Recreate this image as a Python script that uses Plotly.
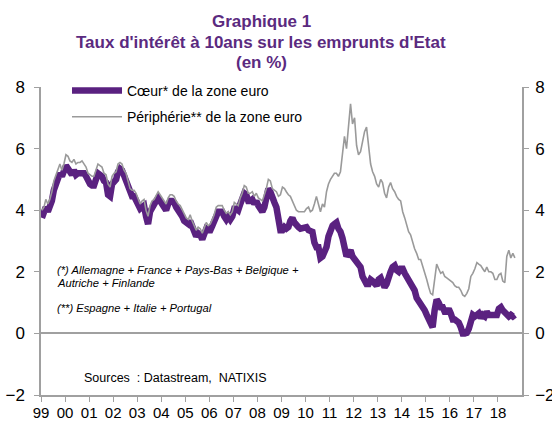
import pandas as pd
import plotly.graph_objects as go

# ---------------- data (monthly, Jan 1999 -> Sep 2018) ----------------
start_month = "1999-01-01"
core_yields = [
    3.75, 3.9, 4.1, 3.95, 4.1, 4.3, 4.65, 4.9, 5.1, 5.2, 5.1, 5.25,      # 1999
    5.45, 5.35, 5.2, 5.15, 5.3, 5.15, 5.2, 5.2, 5.25, 5.2, 5.1, 4.9,     # 2000
    4.85, 4.8, 4.8, 5.0, 5.2, 5.15, 5.1, 4.95, 4.9, 4.5, 4.45, 4.85,     # 2001
    4.95, 5.0, 5.25, 5.35, 5.3, 5.1, 5.0, 4.75, 4.5, 4.45, 4.45, 4.35,   # 2002
    4.2, 4.05, 4.1, 4.15, 3.8, 3.55, 3.95, 4.1, 4.15, 4.3, 4.4, 4.3,     # 2003
    4.2, 4.1, 4.0, 4.2, 4.3, 4.3, 4.25, 4.1, 4.0, 3.95, 3.8, 3.65,       # 2004
    3.6, 3.55, 3.65, 3.45, 3.3, 3.15, 3.25, 3.2, 3.05, 3.2, 3.4, 3.35,   # 2005
    3.35, 3.5, 3.65, 3.9, 3.95, 3.95, 3.95, 3.8, 3.7, 3.8, 3.7, 3.8,     # 2006
    4.05, 4.05, 4.0, 4.2, 4.35, 4.55, 4.5, 4.3, 4.3, 4.35, 4.2, 4.3,     # 2007
    4.15, 4.05, 3.95, 4.1, 4.35, 4.7, 4.6, 4.35, 4.25, 4.1, 3.75, 3.35,  # 2008
    3.35, 3.45, 3.4, 3.45, 3.65, 3.75, 3.6, 3.5, 3.45, 3.4, 3.4, 3.4,    # 2009
    3.45, 3.35, 3.3, 3.3, 2.95, 2.8, 2.8, 2.45, 2.5, 2.6, 2.8, 3.15,     # 2010
    3.4, 3.5, 3.55, 3.6, 3.4, 3.3, 3.1, 2.7, 2.5, 2.6, 2.7, 2.5,         # 2011
    2.4, 2.35, 2.3, 2.15, 1.85, 1.75, 1.6, 1.6, 1.75, 1.7, 1.65, 1.55,   # 2012
    1.75, 1.8, 1.65, 1.5, 1.6, 1.9, 2.0, 2.15, 2.2, 2.05, 2.0, 2.1,      # 2013
    2.1, 1.95, 1.85, 1.8, 1.65, 1.5, 1.4, 1.15, 1.05, 0.95, 0.9, 0.75,   # 2014
    0.6, 0.45, 0.3, 0.2, 0.75, 1.1, 1.0, 0.85, 0.85, 0.7, 0.7, 0.8,      # 2015
    0.65, 0.45, 0.45, 0.4, 0.35, 0.2, 0.0, 0.0, 0.02, 0.15, 0.5, 0.6,    # 2016
    0.55, 0.65, 0.65, 0.5, 0.6, 0.55, 0.7, 0.6, 0.6, 0.6, 0.55, 0.6,     # 2017
    0.8, 0.85, 0.75, 0.7, 0.65, 0.55, 0.6, 0.55, 0.6,                    # 2018
]
periphery_yields = [
    4.0, 4.1, 4.35, 4.2, 4.35, 4.6, 4.95, 5.15, 5.35, 5.5, 5.3, 5.5,     # 1999
    5.8, 5.75, 5.6, 5.55, 5.65, 5.5, 5.55, 5.55, 5.6, 5.5, 5.4, 5.2,     # 2000
    5.15, 5.1, 5.1, 5.3, 5.5, 5.45, 5.4, 5.2, 5.15, 4.85, 4.75, 5.1,     # 2001
    5.2, 5.25, 5.5, 5.55, 5.5, 5.3, 5.2, 4.95, 4.7, 4.65, 4.65, 4.55,    # 2002
    4.4, 4.2, 4.3, 4.35, 4.0, 3.8, 4.15, 4.3, 4.35, 4.5, 4.6, 4.5,       # 2003
    4.4, 4.3, 4.2, 4.4, 4.5, 4.5, 4.45, 4.3, 4.2, 4.15, 4.0, 3.85,       # 2004
    3.75, 3.7, 3.85, 3.65, 3.5, 3.35, 3.45, 3.4, 3.25, 3.4, 3.6, 3.5,    # 2005
    3.55, 3.7, 3.85, 4.1, 4.15, 4.15, 4.15, 4.0, 3.9, 3.95, 3.85, 3.95,  # 2006
    4.25, 4.2, 4.15, 4.4, 4.55, 4.8, 4.75, 4.55, 4.55, 4.6, 4.45, 4.55,  # 2007
    4.4, 4.35, 4.3, 4.5, 4.7, 5.0, 4.95, 4.7, 4.65, 4.6, 4.45, 4.5,      # 2008
    4.75, 4.7, 4.6, 4.5, 4.45, 4.3, 4.15, 4.0, 3.95, 3.95, 3.95, 3.95,   # 2009
    4.05, 4.1, 3.95, 4.0, 4.2, 4.45, 4.2, 3.95, 4.2, 4.1, 4.6, 4.85,     # 2010
    5.0, 5.1, 5.2, 5.2, 5.1, 5.25, 5.8, 6.4, 6.0, 6.7, 7.45, 6.8,        # 2011
    7.0, 6.1, 5.8, 5.9, 6.2, 6.55, 6.7, 6.0, 5.5, 5.25, 5.1, 4.85,       # 2012
    4.75, 5.0, 4.9, 4.55, 4.4, 4.75, 4.9, 4.7, 4.6, 4.45, 4.35, 4.3,     # 2013
    3.95, 3.75, 3.5, 3.3, 3.2, 2.95, 2.75, 2.6, 2.4, 2.4, 2.2, 1.95,     # 2014
    1.75, 1.5, 1.3, 1.25, 1.85, 2.25, 2.1, 1.95, 2.0, 1.85, 1.8, 1.75,   # 2015
    1.7, 1.65, 1.55, 1.5, 1.5, 1.4, 1.25, 1.2, 1.3, 1.45, 1.85, 1.95,    # 2016
    2.1, 2.3, 2.25, 2.2, 2.1, 2.0, 2.15, 2.0, 2.0, 1.95, 1.75, 1.75,     # 2017
    1.9, 1.95, 1.7, 1.65, 2.5, 2.7, 2.45, 2.6, 2.45,                     # 2018
]
series_names = ["Cœur* de la zone euro", "Périphérie** de la zone euro"]
year_ticks = [f"{y}-01-01" for y in range(1999, 2019)]
year_labels = [f"{y % 100:02d}" for y in range(1999, 2019)]
y_ticks = [-2, 0, 2, 4, 6, 8]

dates = pd.date_range(start_month, periods=len(core_yields), freq="MS") + pd.Timedelta(days=14)

PURPLE = "#5a2180"
GREY = "#9a9a9a"
AXIS = "#a0a0a0"
FONT = "Liberation Sans, Arial, sans-serif"

fig = go.Figure()
fig.add_trace(go.Scatter(x=dates, y=core_yields, name=series_names[0], mode="lines",
                         line=dict(color=PURPLE, width=6.5), legendgroup="a"))
fig.add_trace(go.Scatter(x=dates, y=periphery_yields, name=series_names[1], mode="lines",
                         line=dict(color=GREY, width=1.6), yaxis="y2", legendgroup="b"))

W, H = 552, 421
L, R, T, B = 41, 30, 87, 26
PW, PH = W - L - R, H - T - B


def px(xp):
    return (xp - L) / PW


def py(yp):
    return (H - B - yp) / PH


fig.update_layout(
    width=W, height=H,
    margin=dict(l=L, r=R, t=T, b=B, autoexpand=False),
    paper_bgcolor="white", plot_bgcolor="white",
    font=dict(family=FONT, color="black"),
    showlegend=True,
    legend=dict(x=67 / W, y=1 - 75 / H, xref="container", yref="container",
                xanchor="left", yanchor="top",
                bgcolor="rgba(0,0,0,0)", font=dict(size=14, family=FONT),
                tracegroupgap=5, traceorder="grouped", itemwidth=50),
    xaxis=dict(type="date", range=["1999-01-01", "2019-01-01"],
               tickvals=year_ticks, ticktext=year_labels,
               ticks="outside", ticklen=5, tickcolor=AXIS, tickwidth=1.2,
               showline=True, linecolor=AXIS, linewidth=1.5,
               showgrid=False, zeroline=False, automargin=False,
               ticklabelstandoff=-2,
               tickfont=dict(size=15, family=FONT, color="black")),
    yaxis=dict(range=[-2, 8], tickvals=y_ticks,
               ticks="outside", ticklen=5, tickcolor=AXIS, tickwidth=1.2,
               showline=True, linecolor=AXIS, linewidth=1.5,
               showgrid=False, zeroline=True, zerolinecolor=AXIS, zerolinewidth=1.5,
               automargin=False,
               tickfont=dict(size=17, family=FONT, color="black"), ticklabelstandoff=6),
    yaxis2=dict(range=[-2, 8], tickvals=y_ticks, overlaying="y", side="right",
                matches="y",
                ticks="outside", ticklen=5, tickcolor=AXIS, tickwidth=1.2,
                showline=True, linecolor=AXIS, linewidth=1.5,
                showgrid=False, zeroline=False, automargin=False,
                tickfont=dict(size=17, family=FONT, color="black"), ticklabelstandoff=3),
)

# Title
title_lines = ["Graphique 1", "Taux d'intérêt à 10ans sur les emprunts d'Etat", "(en %)"]
for txt, yy in zip(title_lines, [21, 42, 63]):
    fig.add_annotation(text=f"<b>{txt}</b>", xref="paper", yref="paper",
                       x=px(261), y=py(yy),
                       xanchor="center", yanchor="middle", showarrow=False,
                       font=dict(size=17, color="#5b2a7f", family=FONT))

# Notes
notes = [("<i>(*) Allemagne + France + Pays-Bas + Belgique +</i>", 270),
         ("<i>Autriche + Finlande</i>", 283),
         ("<i>(**) Espagne + Italie + Portugal</i>", 308)]
for txt, yy in notes:
    fig.add_annotation(text=txt, xref="paper", yref="paper",
                       x=px(55), y=py(yy),
                       xanchor="left", yanchor="middle", showarrow=False,
                       font=dict(size=11.2, color="black", family=FONT))
fig.add_annotation(text="Sources  : Datastream,  NATIXIS", xref="paper", yref="paper",
                   x=px(82), y=py(378),
                   xanchor="left", yanchor="middle", showarrow=False,
                   font=dict(size=12.5, color="black", family=FONT))

fig.write_html("out.html", config={"displayModeBar": False},
               post_script="document.body.style.margin='0';document.body.style.overflow='hidden';")
